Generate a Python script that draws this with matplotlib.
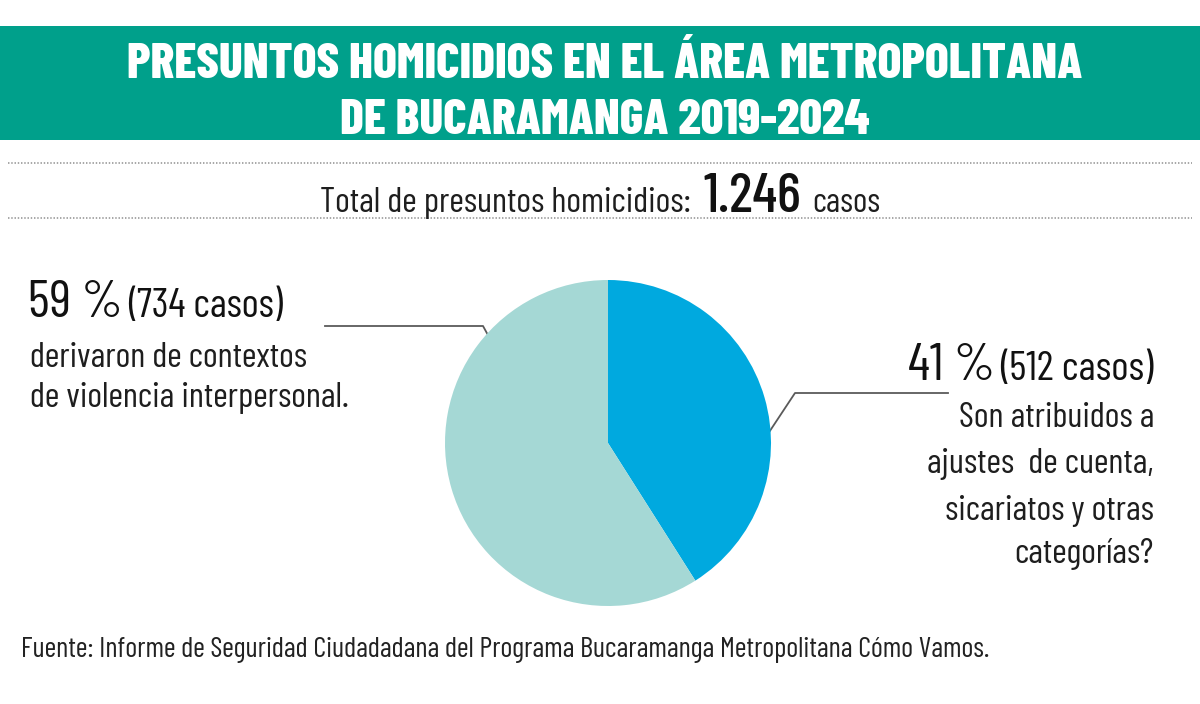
import matplotlib
matplotlib.use("Agg")
import matplotlib.pyplot as plt
from matplotlib import font_manager as fm

available = {f.name for f in fm.fontManager.ttflist}


def pick(cands):
    for c in cands:
        if c in available:
            return c
    return "DejaVu Sans"


TITLE_FONT = pick(["Barlow Condensed", "Roboto Condensed", "Asap Condensed", "Archivo Narrow"])
BODY_FONT = pick(["Barlow Condensed", "Roboto Condensed", "Asap Condensed", "Archivo Narrow"])
plt.rcParams['font.family'] = [BODY_FONT, "DejaVu Sans"]

# ---------------- Data ----------------
categories = ["Violencia interpersonal", "Ajustes de cuenta, sicariatos y otras"]
percentages = [59, 41]
cases = [734, 512]
total_cases = "1.246"
colors = ["#a5d8d5", "#00a9df"]

title_lines = ["PRESUNTOS HOMICIDIOS EN EL ÁREA METROPOLITANA",
               "DE BUCARAMANGA 2019-2024"]
left_lines = ["derivaron de contextos", "de violencia interpersonal."]
right_lines = ["Son atribuidos a", "ajustes  de cuenta,", "sicariatos y otras", "categorías?"]
source = "Fuente: Informe de Seguridad Ciudadadana del Programa Bucaramanga Metropolitana Cómo Vamos."

W, H = 1200, 704
fig = plt.figure(figsize=(W / 100, H / 100), dpi=100)
bg = fig.add_axes([0, 0, 1, 1])
bg.set_xlim(0, W)
bg.set_ylim(H, 0)
bg.axis("off")
renderer = fig.canvas.get_renderer()


def width_of(t):
    return t.get_window_extent(renderer=renderer).width


def fit_size(s, target, family, weight="normal"):
    t = bg.text(0, 0, s, fontsize=20, family=[family, "DejaVu Sans"], fontweight=weight)
    w = width_of(t)
    t.remove()
    return 20 * target / w


def put(s, x, y, size, family, weight="normal", ha="left", color="#1e1e1e"):
    return bg.text(x, y, s, fontsize=size, family=[family, "DejaVu Sans"], fontweight=weight,
                   ha=ha, va="baseline", color=color)


# Header band
bg.add_patch(plt.Rectangle((0, 26), W, 114, color="#00a08b", zorder=0, lw=0))
tsize = fit_size(title_lines[0], 956, TITLE_FONT, "heavy")
put(title_lines[0], 605, 78, tsize, TITLE_FONT, "heavy", ha="center", color="white")
put(title_lines[1], 605, 134, tsize, TITLE_FONT, "heavy", ha="center", color="white")

# Dotted separators
for y in (163, 218):
    bg.plot([8, 1192], [y, y], color="#a0a0a0", lw=1.3, ls=(0, (0.8, 1.0)))

# Subtitle
sub = "Total de presuntos homicidios:"
put(sub, 320, 212, fit_size(sub, 372, BODY_FONT), BODY_FONT)
put(total_cases, 703, 212, fit_size(total_cases, 97, BODY_FONT, "medium"), BODY_FONT, "medium", color="#111111")
put("casos", 812, 212, fit_size("casos", 68, BODY_FONT), BODY_FONT)

# Pie
cx, cy, rad = 608, 443, 163
pax = fig.add_axes([(cx - rad) / W, (H - cy - rad) / H, 2 * rad / W, 2 * rad / H])
pax.pie(percentages[::-1], colors=colors[::-1], startangle=90, counterclock=False,
        radius=1, wedgeprops=dict(linewidth=0))
pax.set_xlim(-1, 1)
pax.set_ylim(-1, 1)
pax.axis("off")

# Leader lines
bg.plot([325, 483, 518], [326, 326, 390], color="#5a5a5a", lw=1.3, zorder=5)
bg.plot([948, 795, 752], [393, 393, 458], color="#5a5a5a", lw=1.3, zorder=5)

# Body text size (shared)
body_sizes = [fit_size(left_lines[1], 320, BODY_FONT), fit_size(left_lines[0], 275, BODY_FONT),
              fit_size(right_lines[0], 201, BODY_FONT), fit_size(right_lines[2], 208, BODY_FONT)]
bsize = sorted(body_sizes)[len(body_sizes) // 2]
psize = 38  # large percentage figures

# Left label
p0 = f"{percentages[0]} %"
c0 = f"({cases[0]} casos)"
tp0 = put(p0, 28, 317, psize, BODY_FONT, color="#111111")
x_after = 28 + width_of(tp0) + 5
put(c0, x_after, 317, fit_size(c0, 155, BODY_FONT), BODY_FONT, color="#111111")
for y, s in zip([367, 407], left_lines):
    put(s, 30, y, bsize, BODY_FONT)

# Right label
p1 = f"{percentages[1]} %"
c1 = f"({cases[1]} casos)"
tc1 = put(c1, 1154, 380, fit_size(c1, 153, BODY_FONT), BODY_FONT, ha="right", color="#111111")
put(p1, 1154 - width_of(tc1) - 5, 380, psize, BODY_FONT, ha="right", color="#111111")
for y, s in zip([427, 473, 520, 563], right_lines):
    put(s, 1154, y, bsize, BODY_FONT, ha="right")

# Footer
put(source, 21, 657, fit_size(source, 970, BODY_FONT), BODY_FONT, color="#222222")

fig.savefig("out.png", dpi=100)
